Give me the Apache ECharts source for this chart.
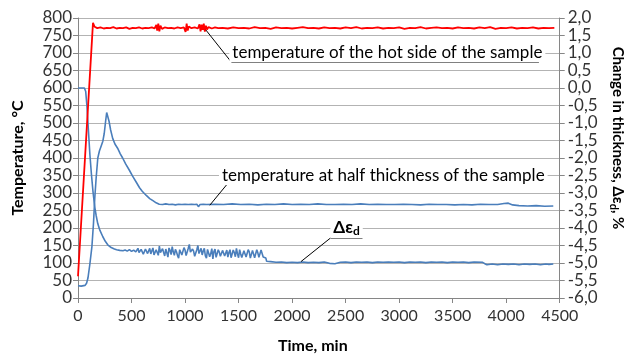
<!DOCTYPE html>
<html lang="en">
<head>
	<meta charset="UTF-8">
	<title>Temperature and change in thickness</title>
	<script src="https://cdn.jsdelivr.net/npm/echarts@6/dist/echarts.min.js"></script>
	<style>
		html, body { margin: 0; padding: 0; background: #fff; }
		#main { width: 633px; height: 359px; }
	</style>
</head>
<body>
	<div id="main"></div>
	<script>
		// [time min, temperature °C] - hot side of the sample
		const hotSide = [
			[0, 62], [140, 786], [155, 775], [180, 771], [210, 773], [240, 770], [270, 772], [300, 771],
			[330, 774], [360, 770], [390, 772], [420, 771], [450, 773], [480, 769], [510, 772], [540, 771],
			[570, 773], [600, 770], [630, 772], [660, 771], [690, 773], [715, 770], [732, 780], [740, 764],
			[750, 784], [760, 762], [770, 778], [785, 769], [810, 773], [840, 771], [870, 772], [900, 770],
			[930, 773], [960, 771], [990, 773], [1005, 760], [1015, 784], [1025, 764], [1035, 776], [1060, 771],
			[1090, 773], [1120, 770], [1135, 782], [1145, 762], [1155, 781], [1165, 766], [1175, 784], [1185, 761],
			[1195, 778], [1205, 767], [1220, 774], [1250, 770], [1280, 773], [1310, 771],
			[1350, 772], [1400, 770], [1450, 773], [1500, 771], [1550, 772], [1600, 770], [1650, 774], [1700, 771],
			[1750, 772], [1800, 769], [1850, 773], [1900, 771], [1950, 772], [2000, 770], [2050, 772], [2100, 774],
			[2150, 771], [2200, 772], [2250, 770], [2300, 773], [2350, 771], [2400, 772], [2450, 770], [2500, 773],
			[2550, 771], [2600, 774], [2650, 770], [2700, 772], [2750, 771], [2800, 773], [2850, 770], [2900, 772],
			[2950, 771], [3000, 773], [3050, 769], [3100, 772], [3150, 771], [3200, 774], [3250, 770], [3300, 772],
			[3350, 773], [3400, 771], [3450, 772], [3500, 770], [3550, 773], [3600, 771], [3650, 772], [3700, 770],
			[3750, 773], [3800, 771], [3850, 774], [3900, 769], [3950, 772], [4000, 771], [4050, 773], [4100, 770],
			[4150, 772], [4200, 771], [4250, 773], [4300, 770], [4350, 772], [4400, 771], [4450, 772]
		]

		// [time min, temperature °C] - half thickness of the sample
		const halfThickness = [
			[0, 35], [30, 34], [65, 36], [80, 42], [93, 57], [110, 95], [130, 147], [145, 215], [157, 287],
			[170, 345], [185, 400], [200, 420], [215, 433], [232, 448], [245, 470], [258, 505], [268, 530],
			[278, 527], [290, 505], [305, 480], [324, 456], [345, 440], [370, 428], [395, 412], [417, 400],
			[445, 383], [480, 365], [510, 348], [546, 330], [575, 315], [600, 305], [638, 293], [670, 284],
			[700, 278], [730, 272], [759, 268], [790, 267], [820, 269], [850, 267], [880, 268], [910, 266],
			[940, 268], [970, 267], [1000, 268], [1030, 267], [1060, 268], [1090, 267], [1110, 268], [1125, 261],
			[1140, 267], [1170, 268], [1200, 267], [1280, 268], [1360, 267], [1440, 269], [1520, 267], [1600, 268],
			[1680, 266], [1760, 268], [1840, 267], [1920, 269], [2000, 267], [2080, 268], [2160, 267], [2240, 269],
			[2320, 267], [2400, 267], [2480, 268], [2560, 267], [2640, 269], [2720, 267], [2800, 268], [2880, 267],
			[2960, 267], [3040, 268], [3120, 267], [3200, 266], [3280, 268], [3360, 267], [3440, 267], [3520, 266],
			[3600, 267], [3680, 266], [3760, 268], [3840, 267], [3920, 267], [3980, 270], [4020, 271], [4060, 266],
			[4120, 264], [4200, 263], [4280, 264], [4360, 262], [4440, 263]
		]

		// [time min, change in thickness %] - right axis
		const thicknessChange = [
			[0, 0.0], [60, 0.0], [72, -0.1], [83, -0.5], [97, -1.2], [111, -1.9], [125, -2.45], [139, -2.93],
			[157, -3.41], [170, -3.65], [185, -3.88], [205, -4.07], [232, -4.25], [255, -4.38], [278, -4.48],
			[310, -4.56], [340, -4.6], [361, -4.62], [390, -4.64], [420, -4.65],
			[440, -4.63], [460, -4.66], [480, -4.62], [500, -4.67], [520, -4.63], [540, -4.68], [560, -4.58],
			[570, -4.70], [580, -4.72], [590, -4.61], [600, -4.64], [610, -4.75], [620, -4.79], [630, -4.60],
			[640, -4.55], [650, -4.73], [660, -4.69], [670, -4.58], [680, -4.74], [690, -4.65], [700, -4.57],
			[710, -4.77], [720, -4.81], [730, -4.62], [740, -4.66], [750, -4.78], [760, -4.52], [770, -4.70],
			[780, -4.75], [790, -4.59], [800, -4.70], [810, -4.80], [820, -4.60], [830, -4.71], [840, -4.83],
			[850, -4.57], [860, -4.64], [870, -4.76], [880, -4.53], [890, -4.68], [900, -4.78], [910, -4.61],
			[920, -4.68], [930, -4.79], [940, -4.86], [950, -4.62], [960, -4.59], [970, -4.77], [980, -4.72],
			[990, -4.56], [1000, -4.63], [1010, -4.79], [1020, -4.80], [1030, -4.58], [1040, -4.47], [1050, -4.69],
			[1060, -4.74], [1070, -4.60], [1080, -4.66], [1090, -4.81], [1100, -4.84], [1110, -4.62], [1120, -4.50],
			[1130, -4.73], [1140, -4.70], [1150, -4.58], [1160, -4.77], [1170, -4.66], [1180, -4.58], [1190, -4.80],
			[1200, -4.86], [1210, -4.61], [1220, -4.64], [1230, -4.82], [1240, -4.73], [1250, -4.59], [1260, -4.88],
			[1270, -4.67], [1280, -4.60], [1290, -4.84], [1300, -4.79], [1310, -4.62], [1320, -4.69], [1330, -4.81],
			[1340, -4.86], [1350, -4.64], [1360, -4.59], [1370, -4.80], [1380, -4.77], [1390, -4.63], [1400, -4.83],
			[1410, -4.70], [1420, -4.62], [1430, -4.85], [1440, -4.87], [1450, -4.63], [1460, -4.70], [1470, -4.82],
			[1480, -4.58], [1490, -4.74], [1500, -4.85], [1510, -4.62], [1520, -4.74], [1530, -4.84], [1540, -4.89],
			[1550, -4.65], [1560, -4.61], [1570, -4.83], [1580, -4.80], [1590, -4.62], [1600, -4.68], [1610, -4.86],
			[1620, -4.88], [1630, -4.64], [1640, -4.63], [1650, -4.85], [1660, -4.82], [1670, -4.62], [1680, -4.71],
			[1690, -4.84], [1700, -4.87], [1710, -4.63], [1720, -4.60], [1730, -4.83], [1740, -4.80],
			[1755, -4.86], [1762, -4.95], [1800, -4.96], [1850, -4.98],
			[1900, -4.97], [1950, -4.99], [2000, -4.98], [2050, -4.99], [2100, -4.97], [2150, -4.99], [2200, -4.98],
			[2250, -4.99], [2300, -4.97], [2350, -5.01], [2400, -5.02], [2450, -4.98], [2500, -4.97], [2550, -4.99],
			[2600, -4.97], [2650, -4.98], [2700, -4.97], [2750, -4.99], [2800, -4.97], [2850, -4.98], [2900, -4.97],
			[2950, -4.98], [3000, -4.97], [3050, -4.99], [3100, -4.97], [3150, -4.98], [3200, -4.97], [3250, -4.99],
			[3300, -4.97], [3350, -4.98], [3400, -4.97], [3450, -4.99], [3500, -4.97], [3550, -4.98], [3600, -4.97],
			[3650, -4.99], [3700, -4.97], [3780, -4.98], [3800, -5.02], [3820, -5.05], [3870, -5.03], [3920, -5.05],
			[3970, -5.03], [4020, -5.04], [4070, -5.03], [4120, -5.05], [4170, -5.03], [4220, -5.04], [4270, -5.03],
			[4320, -5.05], [4370, -5.03], [4400, -5.04], [4440, -5.03]
		]

		// callout texts: [label, time, temperature]
		const calloutTexts = [
			['temperature of the hot side of the sample', 2890, 700],
			['temperature at half thickness of the sample', 2852, 350],
			['{b|Δε}{s|d}', 2509, 200]
		]
		// callout leader lines: [t1, v1, t2, v2]
		const calloutLines = [
			[1194, 766, 1435, 673], [1435, 673, 4306, 673],
			[1231, 265, 1398, 327], [1398, 327, 4296, 327],
			[2083, 104, 2361, 172], [2361, 172, 2657, 172]
		]

		const blue = '#4a7ebb'
		const font = 'Lato, "Open Sans", sans-serif'
		const subRich = {
			b: { fontWeight: 'bold', fontSize: 17, color: '#000', fontFamily: font },
			s: { fontWeight: 'bold', fontSize: 12, color: '#000', fontFamily: font, padding: [7, 0, 0, 0] }
		}

		const myChart = echarts.init(document.getElementById('main'))

		const option = {
			animation: false,
			textStyle: { fontFamily: font },
			grid: { left: 78, right: 69, top: 18, bottom: 57 },
			xAxis: {
				type: 'value',
				min: 0,
				max: 4500,
				interval: 500,
				name: 'Time, min',
				nameLocation: 'middle',
				nameGap: 40,
				nameTextStyle: { fontWeight: 'bold', fontSize: 16, color: '#000', fontFamily: font, padding: [0, 12, 0, 0] },
				axisLine: { lineStyle: { color: '#868686' } },
				axisTick: { show: true, length: 5, lineStyle: { color: '#868686' } },
				axisLabel: {
					fontSize: 16, color: '#333', margin: 10, fontFamily: font,
					formatter: function (v) { return String(v) }
				},
				splitLine: { show: false }
			},
			yAxis: [
				{
					type: 'value',
					min: 0,
					max: 800,
					interval: 50,
					name: 'Temperature, °C',
					nameLocation: 'middle',
					nameGap: 52,
					nameTextStyle: { fontWeight: 'bold', fontSize: 16, color: '#000', fontFamily: font },
					axisLine: { show: true, lineStyle: { color: '#868686' } },
					axisTick: { show: true, length: 5, lineStyle: { color: '#868686' } },
					axisLabel: { fontSize: 17, color: '#333', margin: 6, fontFamily: font },
					splitLine: { show: true, lineStyle: { color: '#b3b3b3', width: 1 } }
				},
				{
					type: 'value',
					position: 'right',
					min: -6,
					max: 2,
					interval: 0.5,
					name: 'Change in thickness, {b|Δε}{s|d}, %',
					nameLocation: 'middle',
					nameRotate: -90,
					nameGap: 48,
					nameTextStyle: {
						fontWeight: 'bold', fontSize: 15, color: '#000', fontFamily: font,
						padding: [0, 40, 0, 0],
						rich: {
							b: { fontWeight: 'bold', fontSize: 15, color: '#000', fontFamily: font },
							s: { fontWeight: 'bold', fontSize: 11, color: '#000', fontFamily: font, padding: [7, 0, 0, 0] }
						}
					},
					axisLine: { show: true, lineStyle: { color: '#868686' } },
					axisTick: { show: true, length: 5, lineStyle: { color: '#868686' } },
					axisLabel: {
						fontSize: 17, color: '#333', margin: 8, fontFamily: font,
						formatter: function (v) { return v.toFixed(1).replace('.', ',') }
					},
					splitLine: { show: false }
				}
			],
			series: [
				{
					name: 'change in thickness',
					type: 'line',
					yAxisIndex: 1,
					data: thicknessChange,
					showSymbol: false,
					lineStyle: { color: blue, width: 1.6 }
				},
				{
					name: 'temperature at half thickness',
					type: 'line',
					yAxisIndex: 0,
					data: halfThickness,
					showSymbol: false,
					lineStyle: { color: blue, width: 1.6 },
					markLine: {
						silent: true,
						symbol: ['none', 'none'],
						label: { show: false },
						lineStyle: { color: '#000', width: 1, type: 'solid' },
						data: calloutLines.map(function (l) {
							return [{ coord: [l[0], l[1]] }, { coord: [l[2], l[3]] }]
						})
					},
					markPoint: {
						silent: true,
						symbolSize: 0,
						data: calloutTexts.map(function (c) {
							return {
								coord: [c[1], c[2]],
								label: {
									show: true,
									position: 'inside',
									formatter: c[0],
									fontSize: 17,
									color: '#000',
									fontFamily: font,
									backgroundColor: '#fff',
									padding: [1, 3],
									rich: subRich
								}
							}
						})
					}
				},
				{
					name: 'temperature of the hot side',
					type: 'line',
					yAxisIndex: 0,
					data: hotSide,
					showSymbol: false,
					lineStyle: { color: '#ff0000', width: 1.8 }
				}
			]
		}
		myChart.setOption(option)
	</script>
</body>
</html>
